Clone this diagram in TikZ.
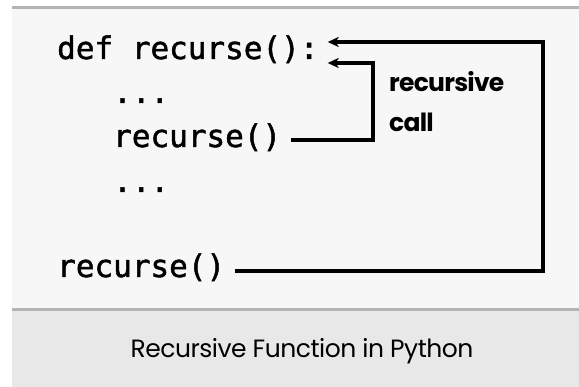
\documentclass[tikz,border=0pt]{standalone}
\usepackage{fontspec}
\usetikzlibrary{arrows.meta,calc}
\newfontfamily\codefont[FakeBold=1.6]{DejaVu Sans Mono}
\newfontfamily\labfont[LetterSpace=-3]{Poppins}
\newfontfamily\capfont[LetterSpace=-2]{Poppins}
\definecolor{panelbg}{HTML}{F7F7F7}
\definecolor{barbg}{HTML}{E8E8E8}
\definecolor{rulegray}{HTML}{B4B4B4}
\tikzset{
  code/.style={anchor=base west, inner sep=0pt, font=\codefont\fontsize{31}{31}\selectfont, text=black},
  lab/.style={anchor=base west, inner sep=0pt, font=\labfont\bfseries\fontsize{25}{25}\selectfont, text=black},
  caption/.style={anchor=base, inner sep=0pt, font=\capfont\fontsize{25}{25}\selectfont, text=black},
  conn/.style={line width=3.2pt, -{Stealth[length=11pt,width=10pt,inset=3pt]}},
}
\begin{document}
\begin{tikzpicture}[x=1pt,y=-1pt]
\useasboundingbox (0,0) rectangle (579,387);
\fill[white] (0,0) rectangle (579,387);
\fill[panelbg] (12,6) rectangle (579,309);
\fill[barbg] (12,309) rectangle (579,387);
\fill[rulegray] (12,6) rectangle (579,9);
\fill[rulegray] (12,308) rectangle (579,311);
% code lines
\node[code] (l1) at (57,59) {def recurse():};
\node[code] (l2) at (113,103) {...};
\node[code] (l3) at (113,147) {recurse()};
\node[code] (l4) at (113,192) {...};
\node[code] (l5) at (57,277) {recurse()};
% label
\node[lab] (rc1) at (389,92) {recursive};
\node[lab] (rc2) at (389,132) {call};
% caption
\node[caption] (cap) at (302,358) {Recursive Function in Python};
% connector coordinates
\coordinate (s3) at ([xshift=10pt,yshift=7pt]l3.base east);
\coordinate (t2) at ([xshift=9pt,yshift=-4pt]l1.base east);
\coordinate (r2) at (373,100);
\coordinate (s5) at ([xshift=10pt,yshift=6pt]l5.base east);
\coordinate (t1) at ([xshift=9pt,yshift=17pt]l1.base east);
\coordinate (r1) at (543,150);
\draw[conn] (s3) -- (s3 -| r2) -- (r2 |- t2) -- (t2);
\draw[conn] (s5) -- (s5 -| r1) -- (r1 |- t1) -- (t1);
\end{tikzpicture}
\end{document}
